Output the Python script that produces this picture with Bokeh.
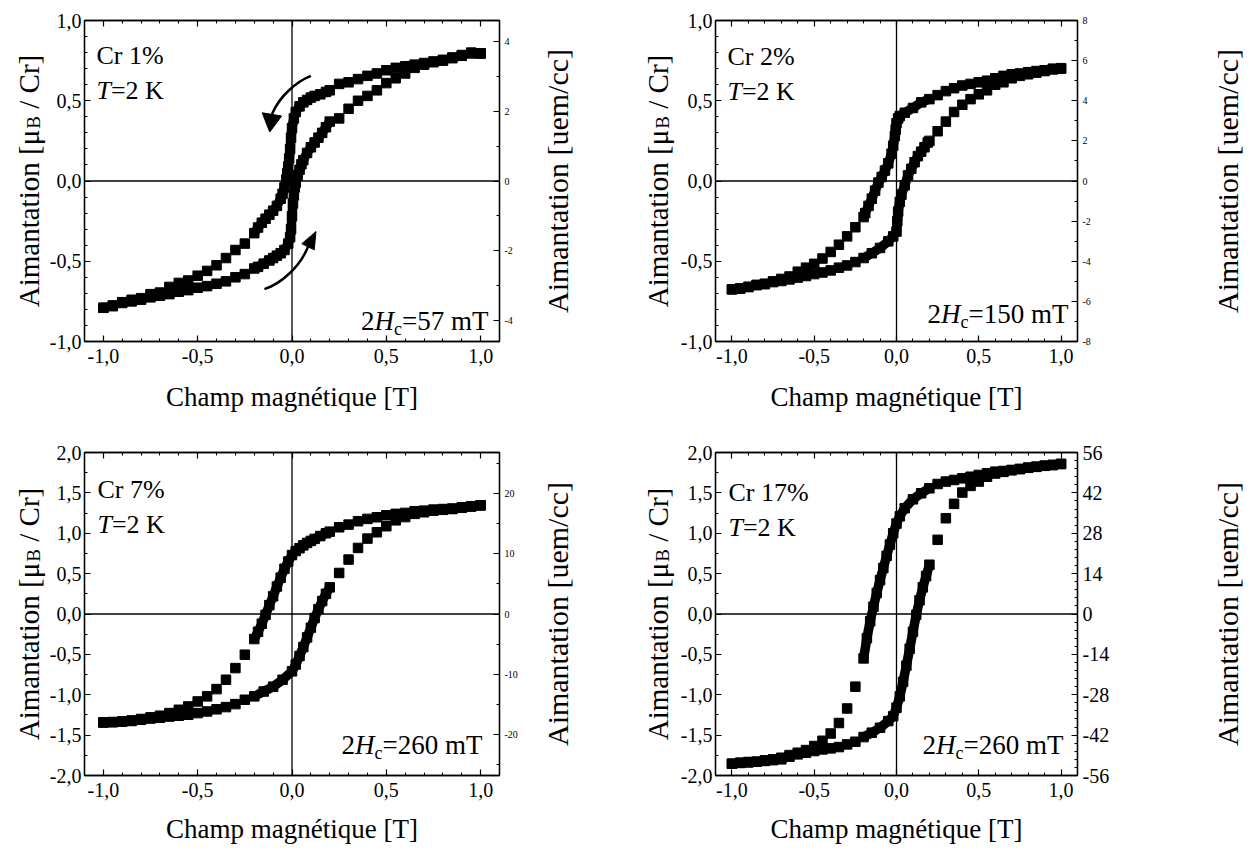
import math
from bokeh.plotting import figure
from bokeh.models import Range1d, LinearAxis, FixedTicker, CustomJSTickFormatter, Span, Label
from bokeh.layouts import column, row
from bokeh.embed import file_html
from bokeh.resources import INLINE

SERIF = "Liberation Serif"
NBSP = "\u00a0"

# ---------------- data (magnetic field H in T, magnetisation M in muB/Cr) ----------------
H_POS_DESC = [1.0, 0.95, 0.9, 0.85, 0.8, 0.75, 0.7, 0.65, 0.6, 0.55, 0.5, 0.45, 0.4, 0.35, 0.3, 0.25]
H_NEG_DESC = [-0.25, -0.3, -0.35, -0.4, -0.45, -0.5, -0.55, -0.6, -0.65, -0.7, -0.75, -0.8, -0.85, -0.9, -0.95, -1.0]
H_NEG_ASC = [-1.0, -0.95, -0.9, -0.85, -0.8, -0.75, -0.7, -0.65, -0.6, -0.55, -0.5, -0.45, -0.4, -0.35, -0.3, -0.25]
H_POS_ASC = [0.25, 0.3, 0.35, 0.4, 0.45, 0.5, 0.55, 0.6, 0.65, 0.7, 0.75, 0.8, 0.85, 0.9, 0.95, 1.0]

# Cr 1%
CR1_DOWN_POS_M = [0.795, 0.80, 0.785, 0.77, 0.755, 0.745, 0.735, 0.725, 0.715, 0.705, 0.69, 0.67, 0.655, 0.635, 0.615, 0.605]
CR1_DOWN_DENSE_H = [0.2, 0.18, 0.15, 0.12, 0.1, 0.08, 0.06, 0.04, 0.02, 0.01, 0.0, -0.005, -0.01, -0.015, -0.02, -0.025, -0.03, -0.04, -0.05, -0.06, -0.08, -0.1, -0.12, -0.14, -0.16, -0.18, -0.2]
CR1_DOWN_DENSE_M = [0.565, 0.555, 0.54, 0.53, 0.52, 0.505, 0.49, 0.465, 0.43, 0.39, 0.33, 0.27, 0.20, 0.14, 0.09, 0.05, 0.01, -0.04, -0.08, -0.11, -0.155, -0.185, -0.21, -0.235, -0.26, -0.29, -0.325]
CR1_DOWN_NEG_M = [-0.39, -0.43, -0.48, -0.525, -0.56, -0.59, -0.62, -0.635, -0.66, -0.695, -0.705, -0.73, -0.74, -0.755, -0.775, -0.79]
CR1_UP_NEG_M = [-0.79, -0.78, -0.76, -0.75, -0.74, -0.725, -0.715, -0.705, -0.69, -0.68, -0.665, -0.655, -0.64, -0.625, -0.60, -0.58]
CR1_UP_DENSE_H = [-0.2, -0.18, -0.15, -0.12, -0.1, -0.08, -0.06, -0.04, -0.02, -0.01, -0.005, 0.0, 0.005, 0.01, 0.015, 0.02, 0.03, 0.04, 0.05, 0.06, 0.08, 0.1, 0.12, 0.14, 0.16, 0.18, 0.2]
CR1_UP_DENSE_M = [-0.545, -0.535, -0.515, -0.495, -0.48, -0.465, -0.45, -0.43, -0.39, -0.35, -0.30, -0.22, -0.14, -0.09, -0.04, -0.01, 0.035, 0.07, 0.105, 0.13, 0.175, 0.21, 0.24, 0.27, 0.30, 0.335, 0.37]
CR1_UP_POS_M = [0.39, 0.45, 0.50, 0.53, 0.565, 0.61, 0.64, 0.67, 0.705, 0.725, 0.74, 0.75, 0.765, 0.78, 0.795, 0.795]

# Cr 2%
CR2_DOWN_POS_M = [0.703, 0.70, 0.69, 0.685, 0.678, 0.67, 0.665, 0.655, 0.64, 0.625, 0.615, 0.605, 0.595, 0.578, 0.56, 0.535]
CR2_DOWN_DENSE_H = [0.2, 0.15, 0.1, 0.05, 0.02, 0.01, 0.0, -0.005, -0.01, -0.02, -0.03, -0.05, -0.07, -0.09, -0.11, -0.13, -0.15, -0.17, -0.19, -0.2]
CR2_DOWN_DENSE_M = [0.51, 0.49, 0.455, 0.425, 0.405, 0.39, 0.36, 0.32, 0.28, 0.22, 0.17, 0.11, 0.065, 0.025, -0.01, -0.06, -0.11, -0.155, -0.20, -0.225]
CR2_DOWN_NEG_M = [-0.288, -0.345, -0.397, -0.442, -0.483, -0.516, -0.54, -0.565, -0.595, -0.61, -0.625, -0.64, -0.648, -0.66, -0.67, -0.675]
CR2_UP_NEG_M = [-0.675, -0.67, -0.66, -0.648, -0.643, -0.63, -0.623, -0.613, -0.602, -0.592, -0.58, -0.57, -0.557, -0.54, -0.526, -0.505]
CR2_UP_DENSE_H = [-0.2, -0.15, -0.1, -0.05, -0.02, 0.0, 0.005, 0.01, 0.02, 0.03, 0.05, 0.07, 0.09, 0.11, 0.13, 0.15, 0.17, 0.19, 0.2]
CR2_UP_DENSE_M = [-0.48, -0.45, -0.417, -0.376, -0.345, -0.315, -0.25, -0.19, -0.13, -0.085, -0.027, 0.035, 0.076, 0.117, 0.155, 0.183, 0.21, 0.24, 0.25]
CR2_UP_POS_M = [0.31, 0.37, 0.43, 0.475, 0.51, 0.54, 0.565, 0.60, 0.615, 0.64, 0.655, 0.665, 0.675, 0.685, 0.695, 0.70]

# Cr 7%
CR7_DOWN_POS_M = [1.347, 1.335, 1.322, 1.306, 1.30, 1.293, 1.28, 1.273, 1.252, 1.24, 1.223, 1.198, 1.178, 1.149, 1.107, 1.074]
CR7_DOWN_DENSE_H = [0.2, 0.18, 0.15, 0.12, 0.1, 0.08, 0.06, 0.04, 0.02, 0.0, -0.02, -0.04, -0.06, -0.08, -0.1, -0.12, -0.14, -0.16, -0.18, -0.2]
CR7_DOWN_DENSE_M = [1.02, 1.0, 0.965, 0.93, 0.905, 0.88, 0.85, 0.815, 0.78, 0.73, 0.65, 0.56, 0.45, 0.34, 0.22, 0.11, -0.01, -0.12, -0.22, -0.31]
CR7_DOWN_NEG_M = [-0.504, -0.67, -0.814, -0.93, -1.02, -1.083, -1.145, -1.186, -1.227, -1.26, -1.28, -1.30, -1.318, -1.33, -1.339, -1.343]
CR7_UP_NEG_M = [-1.343, -1.339, -1.333, -1.325, -1.31, -1.295, -1.285, -1.27, -1.26, -1.248, -1.227, -1.207, -1.18, -1.153, -1.116, -1.062]
CR7_UP_DENSE_H = [-0.2, -0.15, -0.1, -0.05, 0.0, 0.02, 0.04, 0.06, 0.08, 0.1, 0.12, 0.14, 0.16, 0.18, 0.2]
CR7_UP_DENSE_M = [-1.02, -0.96, -0.90, -0.815, -0.71, -0.625, -0.52, -0.41, -0.29, -0.17, -0.05, 0.06, 0.16, 0.25, 0.33]
CR7_UP_POS_M = [0.508, 0.674, 0.818, 0.934, 1.012, 1.087, 1.16, 1.20, 1.24, 1.26, 1.28, 1.29, 1.30, 1.315, 1.33, 1.345]

# Cr 17%
CR17_DOWN_POS_M = [1.858, 1.846, 1.837, 1.825, 1.813, 1.796, 1.784, 1.771, 1.763, 1.743, 1.722, 1.70, 1.68, 1.66, 1.64, 1.61]
CR17_DOWN_DENSE_H = [0.2, 0.15, 0.1, 0.05, 0.02, 0.0, -0.02, -0.04, -0.06, -0.08, -0.1, -0.12, -0.14, -0.16, -0.18, -0.2]
CR17_DOWN_DENSE_M = [1.557, 1.495, 1.42, 1.31, 1.21, 1.12, 1.0, 0.86, 0.72, 0.57, 0.42, 0.26, 0.09, -0.09, -0.30, -0.55]
CR17_DOWN_NEG_M = [-0.90, -1.17, -1.35, -1.48, -1.57, -1.635, -1.685, -1.718, -1.747, -1.78, -1.80, -1.812, -1.829, -1.833, -1.841, -1.854]
CR17_UP_NEG_M = [-1.854, -1.845, -1.838, -1.83, -1.82, -1.81, -1.80, -1.767, -1.738, -1.718, -1.697, -1.677, -1.664, -1.648, -1.615, -1.582]
CR17_UP_DENSE_H = [-0.2, -0.15, -0.1, -0.05, -0.02, 0.0, 0.02, 0.04, 0.06, 0.08, 0.1, 0.12, 0.14, 0.16, 0.18, 0.2]
CR17_UP_DENSE_M = [-1.524, -1.47, -1.409, -1.326, -1.265, -1.16, -1.02, -0.84, -0.64, -0.43, -0.22, -0.01, 0.17, 0.33, 0.47, 0.61]
CR17_UP_POS_M = [0.919, 1.186, 1.364, 1.504, 1.586, 1.64, 1.70, 1.74, 1.76, 1.78, 1.795, 1.81, 1.822, 1.835, 1.845, 1.858]

# sweep-direction arrows of the Cr 1% panel (x0, y0, cx0, cy0, cx1, cy1, x1, y1)
ARROW_DOWN_CURVE = [0.10, 0.655, 0.026, 0.62, -0.063, 0.534, -0.106, 0.417]
ARROW_DOWN_HEAD_H = [-0.158, -0.055, -0.118]
ARROW_DOWN_HEAD_M = [0.425, 0.405, 0.305]
ARROW_UP_CURVE = [-0.146, -0.674, -0.06, -0.64, 0.04, -0.54, 0.085, -0.41]
ARROW_UP_HEAD_H = [0.052, 0.118, 0.127]
ARROW_UP_HEAD_M = [-0.391, -0.429, -0.315]

# texts
X_LABEL = "Champ magnétique [T]"
RIGHT_LABEL = "Aimantation [uem/cc]"
SAMPLES = ["Cr 1%", "Cr 2%", "Cr 7%", "Cr 17%"]
HC_VALUES = ["=57 mT", "=150 mT", "=260 mT", "=260 mT"]

# ---------------- helpers ----------------
W_REG = {' ': 250, NBSP: 250, '%': 833, ',': 250, '-': 333, '.': 250, '/': 278, '=': 564,
         'A': 722, 'B': 667, 'C': 667, 'H': 722, 'K': 722, 'T': 611, '[': 333, ']': 333,
         'a': 444, 'c': 444, 'e': 444, 'i': 278, 'm': 778, 'n': 500, 'o': 500, 'r': 333,
         't': 278, 'u': 500, 'μ': 576}
W_IT = {'H': 722, 'T': 556}


def text_width(s, size, italic=False):
    w = 0
    for ch in s:
        if italic and ch in W_IT:
            w += W_IT[ch]
        else:
            w += W_REG.get(ch, 500)
    return w * size / 1000.0


def rich(p, pieces, x, y, x_off, y_off, angle=0.0, align="left"):
    """pieces: (text, size, italic, baseline shift downwards in px)"""
    total = sum(text_width(t, s, it) for t, s, it, _ in pieces)
    pos = -total if align == "right" else (-total / 2 if align == "center" else 0.0)
    for t, s, it, sh in pieces:
        if angle == 0:
            xo, yo = x_off + pos, y_off - sh
        else:
            xo, yo = x_off + sh, y_off + pos
        p.add_layout(Label(x=x, y=y, x_offset=xo, y_offset=yo, text=t, angle=angle,
                           text_font=SERIF, text_font_size=f"{s}px",
                           text_font_style="italic" if it else "normal",
                           text_align="left", text_baseline="alphabetic", text_color="black"))
        pos += text_width(t, s, it)


def no_align(f):
    try:
        f.frame_align = False
    except Exception:
        pass


def style_axis(ax, ticks, minor, code, size, standoff):
    ax.ticker = FixedTicker(ticks=ticks, minor_ticks=minor)
    ax.formatter = CustomJSTickFormatter(code=code)
    ax.major_tick_in = 6
    ax.major_tick_out = 0
    ax.minor_tick_in = 3
    ax.minor_tick_out = 0
    ax.axis_line_color = "black"
    ax.axis_line_width = 1.3
    ax.major_tick_line_color = "black"
    ax.minor_tick_line_color = "black"
    ax.major_tick_line_width = 1.2
    ax.minor_tick_line_width = 1.0
    ax.major_label_text_font = SERIF
    ax.major_label_text_font_size = size
    ax.major_label_text_color = "black"
    ax.major_label_standoff = standoff


FMT1 = "return tick.toFixed(1).replace('.', ',');"
FMT0 = "return tick.toFixed(0);"
FMTN = "return '';"

X_TICKS = [-1.0, -0.5, 0.0, 0.5, 1.0]
X_MINOR = [round(-1.0 + 0.1 * i, 1) for i in range(21)]

# layout geometry (pixels, page origin at the top-left corner)
ROW_TOP = [20, 35]
ROW_FRAME = [321, 323]
ROW_BOTTOM = [76, 74]
ROW_H = [ROW_TOP[i] + ROW_FRAME[i] + ROW_BOTTOM[i] for i in range(2)]
XL_STANDOFF = [16, 14]
W_YL = [46, 62]
W_MAIN = [484, 437]
BORDER_L = [37, 35]
BORDER_R = [31, 37]
W_YR = [85, 133]
YL_BASE = [28, 42]
YR_CENTER = [27, 113]


def text_fig(w, r, ylim):
    f = figure(width=w, height=ROW_H[r], x_range=Range1d(0, w), y_range=Range1d(-ylim, ylim),
               x_axis_location=None, y_axis_location=None,
               min_border_left=0, min_border_right=0,
               min_border_top=ROW_TOP[r], min_border_bottom=ROW_BOTTOM[r],
               output_backend="svg", toolbar_location=None)
    no_align(f)
    f.outline_line_color = None
    f.background_fill_color = "white"
    f.border_fill_color = "white"
    f.grid.visible = False
    return f


def make_panel(idx, r, c, ylim, y_ticks, y_minor, rlim, r_ticks, r_minor, r_font,
               down_pos, down_dh, down_dm, down_neg, up_neg, up_dh, up_dm, up_pos, txt):
    p = figure(width=W_MAIN[c], height=ROW_H[r], x_range=Range1d(-1.1, 1.1), y_range=Range1d(-ylim, ylim),
               output_backend="svg", toolbar_location=None,
               min_border_left=BORDER_L[c], min_border_right=BORDER_R[c],
               min_border_top=ROW_TOP[r], min_border_bottom=ROW_BOTTOM[r])
    no_align(p)
    p.background_fill_color = "white"
    p.border_fill_color = "white"
    p.outline_line_color = "black"
    p.outline_line_width = 1.3
    p.xgrid.visible = False
    p.ygrid.visible = False

    cr_dx, cr_dy, t_dy, hc_dx, hc_dy = txt

    style_axis(p.xaxis[0], X_TICKS, X_MINOR, FMT1, "20px", 7)
    p.xaxis[0].axis_label = X_LABEL
    p.xaxis[0].axis_label_text_font = SERIF
    p.xaxis[0].axis_label_text_font_size = "27px"
    p.xaxis[0].axis_label_text_font_style = "normal"
    p.xaxis[0].axis_label_text_color = "black"
    p.xaxis[0].axis_label_standoff = XL_STANDOFF[r]
    style_axis(p.yaxis[0], y_ticks, y_minor, FMT1, "20px", 3)

    top = LinearAxis()
    style_axis(top, X_TICKS, X_MINOR, FMTN, "0px", 0)
    p.add_layout(top, "above")

    p.extra_y_ranges = {"r": Range1d(-rlim, rlim)}
    right = LinearAxis(y_range_name="r")
    style_axis(right, r_ticks, r_minor, FMT0, r_font, 5)
    p.add_layout(right, "right")

    p.add_layout(Span(location=0, dimension="width", line_color="black", line_width=1.3))
    p.add_layout(Span(location=0, dimension="height", line_color="black", line_width=1.3))

    # data: descending sweep then ascending sweep
    p.line(down_dh, down_dm, line_width=9.5, line_color="black", line_join="round")
    p.line(up_dh, up_dm, line_width=9.5, line_color="black", line_join="round")
    xs = H_POS_DESC + down_dh + H_NEG_DESC + H_NEG_ASC + up_dh + H_POS_ASC
    ys = down_pos + down_dm + down_neg + up_neg + up_dm + up_pos
    p.scatter(xs, ys, marker="square", size=9.5, color="black")

    rich(p, [(SAMPLES[idx], 26, False, 0)], -1.1, ylim, cr_dx, cr_dy)
    rich(p, [("T", 26, True, 0), ("=2 K", 26, False, 0)], -1.1, ylim, cr_dx, t_dy)
    rich(p, [("2", 27, False, 0), ("H", 27, True, 0), ("c", 18, False, 8), (HC_VALUES[idx], 27, False, 0)],
         1.1, -ylim, hc_dx, hc_dy, align="right")

    yl = text_fig(W_YL[c], r, ylim)
    rich(yl, [("Aimantation [μ", 29, False, 0), ("B", 19, False, 5), (NBSP + "/ Cr]", 29, False, 0)],
         YL_BASE[c], 0, 0, 0, angle=math.pi / 2, align="center")
    yr = text_fig(W_YR[c], r, ylim)
    yr.add_layout(Label(x=YR_CENTER[c], y=0, text=RIGHT_LABEL, angle=math.pi / 2,
                        text_font=SERIF, text_font_size="30px", text_align="center",
                        text_baseline="middle", text_color="black"))
    return yl, p, yr


Y1_TICKS = [-1.0, -0.5, 0.0, 0.5, 1.0]
Y1_MINOR = [round(-1.0 + 0.1 * i, 1) for i in range(21)]
Y2_TICKS = [-2.0, -1.5, -1.0, -0.5, 0.0, 0.5, 1.0, 1.5, 2.0]
Y2_MINOR = [round(-2.0 + 0.25 * i, 2) for i in range(17)]

yl1, p1, yr1 = make_panel(0, 0, 0, 1.0, Y1_TICKS, Y1_MINOR,
                          4.59, [-4, -2, 0, 2, 4], list(range(-4, 5)), "10px",
                          CR1_DOWN_POS_M, CR1_DOWN_DENSE_H, CR1_DOWN_DENSE_M, CR1_DOWN_NEG_M,
                          CR1_UP_NEG_M, CR1_UP_DENSE_H, CR1_UP_DENSE_M, CR1_UP_POS_M,
                          (12, -35, -70, -11, 21))
p1.bezier(x0=[ARROW_DOWN_CURVE[0]], y0=[ARROW_DOWN_CURVE[1]], cx0=[ARROW_DOWN_CURVE[2]], cy0=[ARROW_DOWN_CURVE[3]],
          cx1=[ARROW_DOWN_CURVE[4]], cy1=[ARROW_DOWN_CURVE[5]], x1=[ARROW_DOWN_CURVE[6]], y1=[ARROW_DOWN_CURVE[7]],
          line_color="black", line_width=2.5)
p1.patch(ARROW_DOWN_HEAD_H, ARROW_DOWN_HEAD_M, color="black")
p1.bezier(x0=[ARROW_UP_CURVE[0]], y0=[ARROW_UP_CURVE[1]], cx0=[ARROW_UP_CURVE[2]], cy0=[ARROW_UP_CURVE[3]],
          cx1=[ARROW_UP_CURVE[4]], cy1=[ARROW_UP_CURVE[5]], x1=[ARROW_UP_CURVE[6]], y1=[ARROW_UP_CURVE[7]],
          line_color="black", line_width=2.5)
p1.patch(ARROW_UP_HEAD_H, ARROW_UP_HEAD_M, color="black")

yl2, p2, yr2 = make_panel(1, 0, 1, 1.0, Y1_TICKS, Y1_MINOR,
                          8.0, [-8, -6, -4, -2, 0, 2, 4, 6, 8], list(range(-8, 9)), "10px",
                          CR2_DOWN_POS_M, CR2_DOWN_DENSE_H, CR2_DOWN_DENSE_M, CR2_DOWN_NEG_M,
                          CR2_UP_NEG_M, CR2_UP_DENSE_H, CR2_UP_DENSE_M, CR2_UP_POS_M,
                          (12, -36, -71, -9, 28))

yl3, p3, yr3 = make_panel(2, 1, 0, 2.0, Y2_TICKS, Y2_MINOR,
                          26.8, [-20, -10, 0, 10, 20], list(range(-25, 26, 5)), "10px",
                          CR7_DOWN_POS_M, CR7_DOWN_DENSE_H, CR7_DOWN_DENSE_M, CR7_DOWN_NEG_M,
                          CR7_UP_NEG_M, CR7_UP_DENSE_H, CR7_UP_DENSE_M, CR7_UP_POS_M,
                          (13, -37, -72, -17, 31))

yl4, p4, yr4 = make_panel(3, 1, 1, 2.0, Y2_TICKS, Y2_MINOR,
                          56.0, [-56, -42, -28, -14, 0, 14, 28, 42, 56], [round(-56 + 2.8 * i, 1) for i in range(41)], "20px",
                          CR17_DOWN_POS_M, CR17_DOWN_DENSE_H, CR17_DOWN_DENSE_M, CR17_DOWN_NEG_M,
                          CR17_UP_NEG_M, CR17_UP_DENSE_H, CR17_UP_DENSE_M, CR17_UP_POS_M,
                          (13, -40, -75, -14, 31))

layout = column(row(yl1, p1, yr1, yl2, p2, yr2), row(yl3, p3, yr3, yl4, p4, yr4))
open("out.html", "w").write(file_html(layout, INLINE, "Aimantation"))
